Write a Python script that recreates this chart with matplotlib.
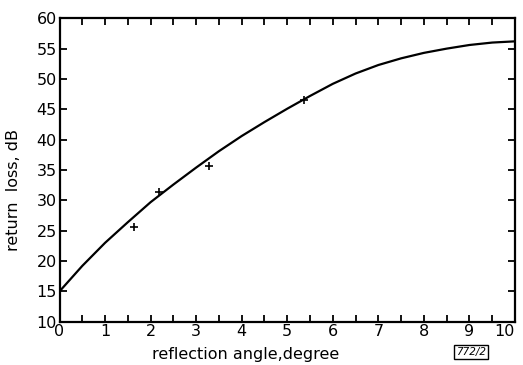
import numpy as np
import matplotlib.pyplot as plt

# measured points (crosses)
meas_angle = [1.64, 2.19, 3.29, 5.36]
meas_loss = [25.6, 31.3, 35.7, 46.6]

# fitted curve
curve_angle = [0, 0.5, 1.0, 1.5, 2.0, 2.5, 3.0, 3.5, 4.0, 4.5, 5.0,
               5.5, 6.0, 6.5, 7.0, 7.5, 8.0, 8.5, 9.0, 9.5, 10.0]
curve_loss = [15.0, 19.2, 23.0, 26.4, 29.7, 32.6, 35.4, 38.1, 40.6, 42.9, 45.1,
              47.2, 49.2, 50.9, 52.3, 53.4, 54.3, 55.0, 55.6, 56.0, 56.2]

xticks = list(range(0, 11))
yticks = list(range(10, 61, 5))

plt.rcParams['font.family'] = 'DejaVu Sans'
fig = plt.figure(figsize=(5.23, 3.65), dpi=100)
ax = fig.add_axes([0.1138, 0.1186, 0.8709, 0.8313])

ax.plot(curve_angle, curve_loss, color='black', lw=1.6, solid_joinstyle='round')
ax.plot(meas_angle, meas_loss, ls='none', marker='+', ms=6, mew=1.2, color='black')

ax.set_xlim(0, 10)
ax.set_ylim(10, 60)
ax.set_xticks(xticks)
ax.set_yticks(yticks)
ax.set_xticks(np.arange(0.5, 10, 1.0), minor=True)
ax.tick_params(axis='both', which='both', direction='in', length=5, width=1.3,
               labelsize=11.5, pad=2)
ax.tick_params(axis='x', which='both', top=True)
ax.tick_params(axis='y', right=True)
for s in ax.spines.values():
    s.set_linewidth(1.6)
# last x label sits right at the edge, pull it in a little
ax.get_xticklabels()[-1].set_horizontalalignment('right')
ax.get_xticklabels()[-1].set_x(10.15)

fig.text(246 / 523, 1 - 354 / 365, 'reflection angle,degree', fontsize=11.5,
         ha='center', va='center')
fig.text(14 / 523, 1 - 190 / 365, 'return  loss, dB', fontsize=11.5,
         ha='center', va='center', rotation=90)
fig.text(471 / 523, 1 - 352 / 365, '772/2', fontsize=7.5, style='italic',
         ha='center', va='center',
         bbox=dict(boxstyle='square,pad=0.15', fc='white', ec='black', lw=1))

fig.savefig('out.png', dpi=100)
